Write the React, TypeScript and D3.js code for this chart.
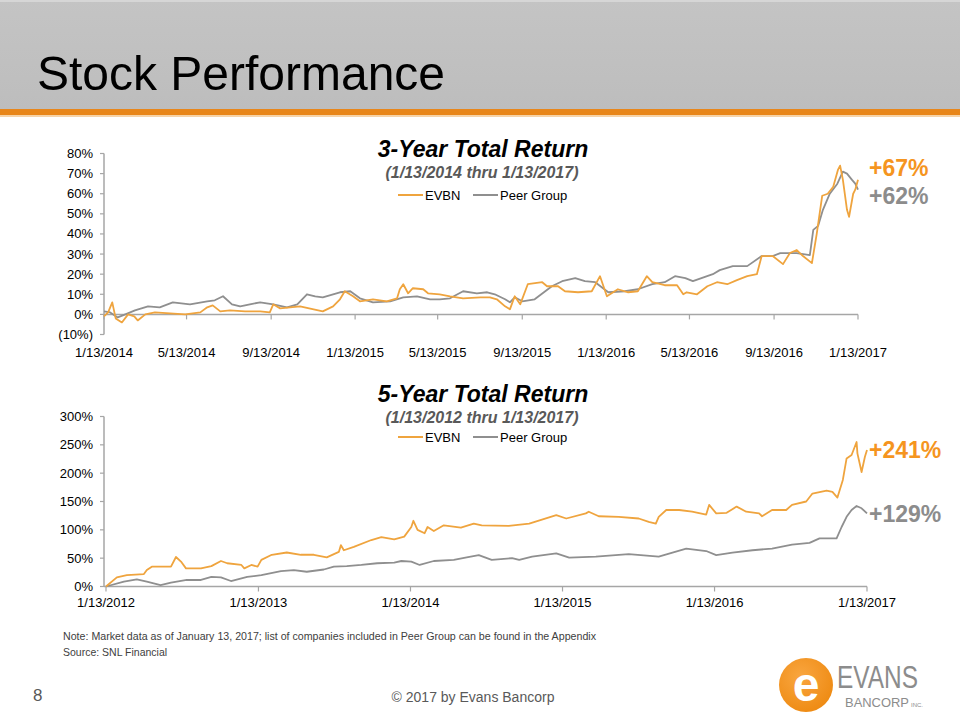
import React from 'react';
import * as d3 from 'd3';

const parse = d3.timeParse('%Y-%m-%d');

// ---- 3-year total return (%) ----
const EVBN_3Y: [string, number][] = [
  ['2014-01-13', -1], ['2014-01-19', 1], ['2014-01-25', 6], ['2014-01-30', -2], ['2014-02-08', -4],
  ['2014-02-17', 0], ['2014-02-26', -1], ['2014-03-03', -3], ['2014-03-14', 0], ['2014-03-28', 1],
  ['2014-04-19', 0.5], ['2014-05-11', 0], ['2014-06-02', 1], ['2014-06-12', 3.5], ['2014-06-20', 4.5],
  ['2014-07-01', 1.5], ['2014-07-15', 2], ['2014-08-06', 1.5], ['2014-08-28', 1.5], ['2014-09-11', 1],
  ['2014-09-16', 5], ['2014-09-26', 3], ['2014-10-25', 4], ['2014-11-27', 1.5], ['2014-12-12', 4],
  ['2014-12-22', 7.5], ['2014-12-29', 11.5], ['2015-01-10', 9], ['2015-01-20', 6.5], ['2015-02-08', 7.5],
  ['2015-02-28', 6.5], ['2015-03-15', 8], ['2015-03-19', 12.5], ['2015-03-24', 15], ['2015-03-31', 10.5],
  ['2015-04-07', 13], ['2015-04-22', 12.5], ['2015-04-29', 10.5], ['2015-05-16', 10], ['2015-05-31', 9],
  ['2015-06-19', 8], ['2015-07-14', 8.5], ['2015-07-28', 8.5], ['2015-08-07', 7.5], ['2015-08-19', 4],
  ['2015-08-26', 2.5], ['2015-09-02', 9], ['2015-09-10', 5], ['2015-09-21', 15], ['2015-10-12', 16],
  ['2015-10-19', 14], ['2015-11-04', 14], ['2015-11-14', 11.5], ['2015-12-03', 11], ['2015-12-23', 11.5],
  ['2016-01-04', 19], ['2016-01-14', 9], ['2016-01-30', 12.5], ['2016-02-14', 11], ['2016-02-28', 11.5],
  ['2016-03-12', 19], ['2016-03-20', 16], ['2016-04-07', 14.5], ['2016-04-25', 14.5], ['2016-05-04', 10],
  ['2016-05-09', 11], ['2016-05-24', 10], ['2016-06-08', 14], ['2016-06-22', 16], ['2016-07-07', 15],
  ['2016-07-21', 17], ['2016-08-05', 19], ['2016-08-19', 20], ['2016-08-26', 29], ['2016-09-11', 29],
  ['2016-09-26', 25], ['2016-10-06', 30.5], ['2016-10-16', 32], ['2016-10-25', 29], ['2016-11-07', 25.5],
  ['2016-11-14', 40], ['2016-11-22', 59], ['2016-11-30', 60], ['2016-12-08', 63.5], ['2016-12-15', 72],
  ['2016-12-18', 74], ['2016-12-22', 67], ['2016-12-28', 52], ['2016-12-31', 48.5], ['2017-01-06', 60],
  ['2017-01-09', 62], ['2017-01-13', 67],
];

const PEER_3Y: [string, number][] = [
  ['2014-01-13', 1.5], ['2014-01-22', 1], ['2014-02-02', -1.5], ['2014-02-13', 0], ['2014-02-27', 2],
  ['2014-03-18', 4], ['2014-04-04', 3.5], ['2014-04-23', 6], ['2014-05-18', 5], ['2014-06-12', 6.5],
  ['2014-06-23', 7], ['2014-07-05', 9], ['2014-07-18', 5], ['2014-07-30', 4], ['2014-08-13', 5],
  ['2014-08-28', 6], ['2014-09-16', 5], ['2014-10-06', 3.5], ['2014-10-21', 5], ['2014-11-04', 10],
  ['2014-11-16', 9], ['2014-11-27', 8.5], ['2014-12-12', 10], ['2014-12-22', 11], ['2015-01-06', 11.5],
  ['2015-01-20', 8], ['2015-02-08', 6], ['2015-03-05', 6.5], ['2015-03-24', 8.5], ['2015-04-13', 9],
  ['2015-05-02', 7.5], ['2015-05-16', 7.5], ['2015-05-31', 8], ['2015-06-19', 11.5], ['2015-07-09', 10.5],
  ['2015-07-24', 11], ['2015-08-04', 10], ['2015-08-19', 7.5], ['2015-08-26', 6], ['2015-09-02', 8.5],
  ['2015-09-13', 6.5], ['2015-10-01', 7.5], ['2015-10-26', 14], ['2015-11-10', 16.5], ['2015-11-29', 18],
  ['2015-12-13', 16.5], ['2015-12-28', 16], ['2016-01-16', 11], ['2016-02-09', 11.5], ['2016-02-28', 12.5],
  ['2016-03-20', 15], ['2016-04-07', 16], ['2016-04-22', 19], ['2016-05-07', 18], ['2016-05-18', 16.5],
  ['2016-06-16', 20], ['2016-06-26', 22], ['2016-07-15', 24], ['2016-08-05', 24], ['2016-08-26', 29],
  ['2016-09-11', 29], ['2016-09-22', 30.5], ['2016-10-16', 30.5], ['2016-11-04', 29.5], ['2016-11-09', 42],
  ['2016-11-16', 44], ['2016-11-23', 52], ['2016-12-03', 60], ['2016-12-14', 65], ['2016-12-22', 71],
  ['2016-12-28', 70], ['2017-01-04', 67], ['2017-01-09', 65], ['2017-01-13', 62],
];

// ---- 5-year total return (%) ----
const EVBN_5Y: [string, number][] = [
  ['2012-01-13', 0], ['2012-02-08', 16], ['2012-03-03', 20], ['2012-04-13', 22], ['2012-04-20', 29],
  ['2012-05-02', 35], ['2012-06-17', 35], ['2012-06-29', 52], ['2012-07-11', 44], ['2012-07-23', 32],
  ['2012-08-28', 32], ['2012-09-22', 36], ['2012-10-15', 45], ['2012-10-30', 41], ['2012-12-03', 38],
  ['2012-12-10', 32], ['2012-12-27', 38], ['2013-01-11', 35], ['2013-01-20', 47], ['2013-02-14', 56],
  ['2013-03-22', 60], ['2013-04-25', 56], ['2013-05-26', 56], ['2013-06-26', 51.5], ['2013-07-25', 61],
  ['2013-07-30', 73], ['2013-08-06', 64], ['2013-08-30', 70], ['2013-10-11', 82], ['2013-11-04', 87],
  ['2013-12-05', 83], ['2013-12-29', 88], ['2014-01-15', 105], ['2014-01-20', 116], ['2014-01-30', 100],
  ['2014-02-16', 94], ['2014-02-23', 105], ['2014-03-10', 98], ['2014-04-03', 108], ['2014-05-14', 104],
  ['2014-06-14', 111], ['2014-07-03', 108], ['2014-09-06', 107], ['2014-10-25', 111], ['2014-12-29', 126],
  ['2015-01-22', 120], ['2015-03-10', 129], ['2015-03-17', 132], ['2015-04-10', 124], ['2015-05-28', 123],
  ['2015-07-15', 120], ['2015-08-08', 114], ['2015-08-25', 111], ['2015-09-01', 123], ['2015-09-19', 135],
  ['2015-10-20', 135], ['2015-11-20', 132], ['2015-12-24', 127], ['2015-12-31', 144], ['2016-01-17', 129],
  ['2016-02-11', 130], ['2016-03-06', 141], ['2016-03-29', 132], ['2016-04-29', 129], ['2016-05-06', 124],
  ['2016-05-30', 135], ['2016-07-03', 135], ['2016-07-17', 144], ['2016-08-20', 150], ['2016-09-04', 164],
  ['2016-10-08', 169], ['2016-10-22', 167], ['2016-11-03', 157], ['2016-11-16', 188], ['2016-11-25', 226],
  ['2016-12-07', 232], ['2016-12-19', 255], ['2016-12-21', 235], ['2016-12-31', 202], ['2017-01-08', 229],
  ['2017-01-13', 241],
];

const PEER_5Y: [string, number][] = [
  ['2012-01-13', 0], ['2012-02-25', 8.5], ['2012-03-27', 12.7], ['2012-04-20', 8.5], ['2012-05-23', 2.6],
  ['2012-06-17', 6.7], ['2012-07-25', 11.5], ['2012-08-28', 11.5], ['2012-09-22', 17], ['2012-10-15', 16],
  ['2012-11-08', 9.7], ['2012-12-17', 17], ['2013-01-20', 20], ['2013-03-08', 27], ['2013-04-08', 29],
  ['2013-05-09', 26], ['2013-06-19', 30], ['2013-07-13', 35], ['2013-08-13', 36], ['2013-09-17', 38],
  ['2013-10-25', 41], ['2013-12-05', 42], ['2013-12-22', 45], ['2014-01-15', 44], ['2014-02-04', 38],
  ['2014-03-10', 45], ['2014-04-27', 47], ['2014-05-28', 51.5], ['2014-06-26', 55.5], ['2014-07-27', 47],
  ['2014-09-14', 50], ['2014-10-01', 47], ['2014-11-01', 52.6], ['2014-12-29', 58.6], ['2015-01-29', 51],
  ['2015-04-03', 52.6], ['2015-06-21', 57], ['2015-09-01', 52.6], ['2015-11-06', 67], ['2015-12-24', 62.6],
  ['2016-01-17', 55.5], ['2016-02-25', 59.6], ['2016-04-13', 64], ['2016-05-30', 67], ['2016-07-17', 74],
  ['2016-08-28', 77], ['2016-09-21', 85], ['2016-11-01', 85], ['2016-11-13', 105], ['2016-11-25', 123],
  ['2016-12-07', 135], ['2016-12-19', 142], ['2016-12-31', 138], ['2017-01-13', 129],
];

const X_TICKS_3Y = ['2014-01-13', '2014-05-13', '2014-09-13', '2015-01-13', '2015-05-13', '2015-09-13',
  '2016-01-13', '2016-05-13', '2016-09-13', '2017-01-13'];
const X_LABELS_3Y = ['1/13/2014', '5/13/2014', '9/13/2014', '1/13/2015', '5/13/2015', '9/13/2015',
  '1/13/2016', '5/13/2016', '9/13/2016', '1/13/2017'];
const Y_TICKS_3Y = [-10, 0, 10, 20, 30, 40, 50, 60, 70, 80];

const X_TICKS_5Y = ['2012-01-13', '2013-01-13', '2014-01-13', '2015-01-13', '2016-01-13', '2017-01-13'];
const X_LABELS_5Y = ['1/13/2012', '1/13/2013', '1/13/2014', '1/13/2015', '1/13/2016', '1/13/2017'];
const Y_TICKS_5Y = [0, 50, 100, 150, 200, 250, 300];

const END_LABELS_3Y = ['+67%', '+62%'];
const END_LABELS_5Y = ['+241%', '+129%'];
const SERIES_NAMES = ['EVBN', 'Peer Group'];

const ORANGE_LINE = '#EFA43E';
const ORANGE_TEXT = '#F5951F';
const GRAY_LINE = '#8F8F8F';
const GRAY_TEXT = '#8C8C8C';
const AXIS = '#A6A6A6';
const FONT = '"Liberation Sans", Arial, Helvetica, sans-serif';

const fmtPct = (v: number) => (v < 0 ? `(${Math.abs(v)}%)` : `${v}%`);

type PanelProps = {
  evbn: [string, number][];
  peer: [string, number][];
  xTicks: string[];
  xLabels: string[];
  yTicks: number[];
  xRange: [number, number];
  yRange: [number, number];
  axisX0: number;
  xLabelY: number;
  title: string;
  subtitle: string;
  titleY: number;
  legendY: number;
  endLabels: string[];
  endLabelYs: number[];
};

function Panel(p: PanelProps) {
  const x = d3.scaleTime()
    .domain([parse(p.xTicks[0])!, parse(p.xTicks[p.xTicks.length - 1])!])
    .range(p.xRange);
  const yMin = p.yTicks[0];
  const yMax = p.yTicks[p.yTicks.length - 1];
  const y = d3.scaleLinear().domain([yMin, yMax]).range(p.yRange);
  const line = d3.line<[string, number]>()
    .x(d => x(parse(d[0])!))
    .y(d => y(d[1]));
  const y0 = y(0);
  return (
    <g fontFamily={FONT}>
      <line x1={p.axisX0} x2={p.axisX0} y1={y(yMax)} y2={y(yMin)} stroke={AXIS} strokeWidth={1.5} />
      <line x1={p.axisX0} x2={p.xRange[1]} y1={y0} y2={y0} stroke={AXIS} strokeWidth={1.5} />
      {p.yTicks.map(t => (
        <g key={t}>
          <line x1={p.axisX0 - 4} x2={p.axisX0} y1={y(t)} y2={y(t)} stroke={AXIS} strokeWidth={1.2} />
          <text x={p.axisX0 - 11} y={y(t)} dy="0.35em" textAnchor="end" fontSize={13} fill="#000">{fmtPct(t)}</text>
        </g>
      ))}
      {p.xTicks.map((t, i) => {
        const xx = x(parse(t)!);
        return (
          <g key={t}>
            <line x1={xx} x2={xx} y1={y0} y2={y0 + 5} stroke={AXIS} strokeWidth={1.2} />
            <text x={xx} y={p.xLabelY} textAnchor="middle" fontSize={13} fill="#000">{p.xLabels[i]}</text>
          </g>
        );
      })}
      <path d={line(p.peer) || ''} fill="none" stroke={GRAY_LINE} strokeWidth={1.8} strokeLinejoin="round" />
      <path d={line(p.evbn) || ''} fill="none" stroke={ORANGE_LINE} strokeWidth={1.8} strokeLinejoin="round" />
      <text x={483} y={p.titleY} textAnchor="middle" fontSize={23} fontWeight="bold" fontStyle="italic" fill="#000">{p.title}</text>
      <text x={482} y={p.titleY + 21} textAnchor="middle" fontSize={16} fontWeight="bold" fontStyle="italic" fill="#595959">{p.subtitle}</text>
      <line x1={398} x2={423} y1={p.legendY} y2={p.legendY} stroke={ORANGE_LINE} strokeWidth={2} />
      <text x={425} y={p.legendY} dy="0.35em" fontSize={13} fill="#000">{SERIES_NAMES[0]}</text>
      <line x1={473} x2={498} y1={p.legendY} y2={p.legendY} stroke={GRAY_LINE} strokeWidth={2} />
      <text x={500} y={p.legendY} dy="0.35em" fontSize={13} fill="#000">{SERIES_NAMES[1]}</text>
      <text x={869} y={p.endLabelYs[0]} fontSize={23} fontWeight="bold" fill={ORANGE_TEXT}>{p.endLabels[0]}</text>
      <text x={869} y={p.endLabelYs[1]} fontSize={23} fontWeight="bold" fill={GRAY_TEXT}>{p.endLabels[1]}</text>
    </g>
  );
}

export default function App() {
  return (
    <div style={{ position: 'absolute', left: 0, top: 0, width: 960, height: 720 }}>
      <svg width={960} height={720} viewBox="0 0 960 720" style={{ display: 'block' }}>
        <defs>
          <linearGradient id="hdr" x1="0" y1="0" x2="0" y2="1">
            <stop offset="0" stopColor="#C4C4C4" />
            <stop offset="1" stopColor="#BDBDBD" />
          </linearGradient>
          <radialGradient id="logo" cx="0.4" cy="0.35" r="0.7">
            <stop offset="0" stopColor="#F9A640" />
            <stop offset="1" stopColor="#EE8A12" />
          </radialGradient>
        </defs>
        <rect x={0} y={0} width={960} height={720} fill="#fff" />
        <rect x={0} y={0} width={960} height={109} fill="url(#hdr)" />
        <rect x={0} y={0} width={960} height={2} fill="#D6D6D6" />
        <rect x={0} y={109} width={960} height={6} fill="#E8861A" />
        <rect x={0} y={115} width={960} height={2} fill="#F6D3A8" />
        <text x={37} y={90} fontFamily={FONT} fontSize={49} fill="#000" textLength={408} lengthAdjust="spacingAndGlyphs">Stock Performance</text>

        <Panel
          evbn={EVBN_3Y} peer={PEER_3Y}
          xTicks={X_TICKS_3Y} xLabels={X_LABELS_3Y} yTicks={Y_TICKS_3Y}
          xRange={[104, 858]} yRange={[334.5, 153.5]} axisX0={104} xLabelY={357}
          title="3-Year Total Return" subtitle="(1/13/2014 thru 1/13/2017)"
          titleY={157} legendY={195} endLabels={END_LABELS_3Y} endLabelYs={[176, 204]}
        />
        <Panel
          evbn={EVBN_5Y} peer={PEER_5Y}
          xTicks={X_TICKS_5Y} xLabels={X_LABELS_5Y} yTicks={Y_TICKS_5Y}
          xRange={[106, 867]} yRange={[586.5, 416.5]} axisX0={104} xLabelY={607}
          title="5-Year Total Return" subtitle="(1/13/2012 thru 1/13/2017)"
          titleY={402} legendY={437} endLabels={END_LABELS_5Y} endLabelYs={[458, 522]}
        />

        <g fontFamily={FONT} fill="#404040">
          <text x={63} y={640} fontSize={10.5} textLength={533} lengthAdjust="spacingAndGlyphs">Note: Market data as of January 13, 2017; list of companies included in Peer Group can be found in the Appendix</text>
          <text x={63} y={656} fontSize={10.5}>Source: SNL Financial</text>
        </g>
        <text x={33} y={701} fontFamily={FONT} fontSize={17} fill="#595959">8</text>
        <text x={473} y={702} textAnchor="middle" fontFamily={FONT} fontSize={14} fill="#595959">© 2017 by Evans Bancorp</text>

        <circle cx={806} cy={685} r={27} fill="url(#logo)" />
        <text x={806} y={701} textAnchor="middle" fontFamily={FONT} fontSize={48} fontWeight="bold" fill="#fff">e</text>
        <text x={837} y={688} fontFamily={FONT} fontSize={31} fill="#8C8C8C" textLength={81} lengthAdjust="spacingAndGlyphs">EVANS</text>
        <text x={845} y={707} fontFamily={FONT} fontSize={13} fill="#8C8C8C" textLength={64} lengthAdjust="spacingAndGlyphs">BANCORP</text>
        <text x={911} y={707} fontFamily={FONT} fontSize={6} fill="#8C8C8C">INC.</text>
      </svg>
    </div>
  );
}
